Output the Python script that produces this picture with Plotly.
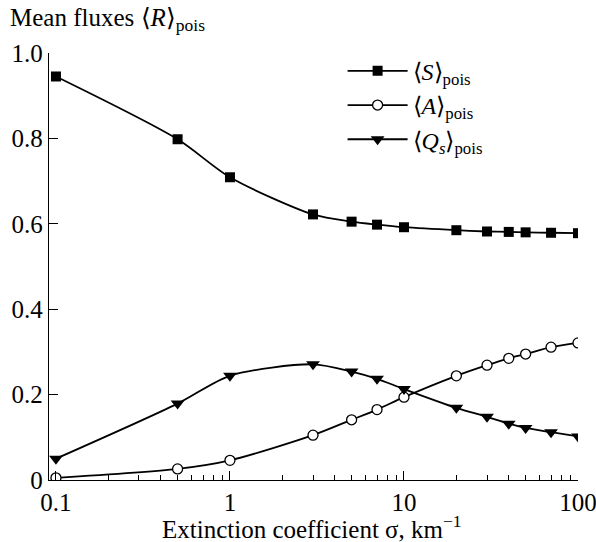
import plotly.graph_objects as go

sigma = [0.1, 0.5, 1, 3, 5, 7, 10, 20, 30, 40, 50, 70, 100]
S_pois = [0.945, 0.798, 0.709, 0.622, 0.605, 0.598, 0.592, 0.585, 0.582, 0.581, 0.580, 0.579, 0.578]
A_pois = [0.005, 0.026, 0.046, 0.105, 0.141, 0.165, 0.194, 0.244, 0.269, 0.285, 0.295, 0.311, 0.321]
Q_pois = [0.050, 0.179, 0.244, 0.271, 0.254, 0.237, 0.213, 0.169, 0.148, 0.132, 0.122, 0.112, 0.102]

names = ["⟨<i>S</i>⟩<sub>pois</sub>", "⟨<i>A</i>⟩<sub>pois</sub>", "⟨<i>Q<sub>s</sub></i>⟩<sub>pois</sub>"]
y_ticks = [0, 0.2, 0.4, 0.6, 0.8, 1.0]
y_ticklabels = ["0", "0.2", "0.4", "0.6", "0.8", "1.0"]
x_ticks = [0.1, 1, 10, 100]
x_ticklabels = ["0.1", "1", "10", "100"]
x_minor = [m * d for d in (0.1, 1, 10) for m in range(2, 10)]

FONT = "Liberation Serif, serif"
FS = 25
fig = go.Figure()
fig.add_trace(go.Scatter(x=sigma, y=S_pois, name=names[0], mode="lines+markers",
                         line=dict(color="black", width=1.8, shape="spline", smoothing=0.8),
                         marker=dict(symbol="square", size=10, color="black")))
fig.add_trace(go.Scatter(x=sigma, y=A_pois, name=names[1], mode="lines+markers",
                         line=dict(color="black", width=1.8, shape="spline", smoothing=0.8),
                         marker=dict(symbol="circle", size=10, color="white",
                                     line=dict(color="black", width=1.3))))
fig.add_trace(go.Scatter(x=sigma, y=Q_pois, name=names[2], mode="lines+markers",
                         line=dict(color="black", width=1.8, shape="spline", smoothing=0.8),
                         marker=dict(symbol="triangle-down", size=12, color="black")))

fig.update_layout(
    width=596, height=542,
    margin=dict(l=49, r=18, t=53, b=62),
    paper_bgcolor="white", plot_bgcolor="white",
    font=dict(family=FONT, size=FS, color="black"),
    showlegend=True,
    legend=dict(x=0.555, y=1.01, xanchor="left", yanchor="top",
                bgcolor="rgba(0,0,0,0)", font=dict(family=FONT, size=FS - 1),
                itemwidth=60, tracegroupgap=0),
    xaxis=dict(type="log", range=[-1.04, 2.0], showgrid=False, zeroline=False,
               showline=True, linecolor="black", linewidth=1.3, automargin=False,
               ticks="inside", ticklen=9, tickwidth=1.3, tickcolor="black",
               tickvals=x_ticks, ticktext=x_ticklabels, ticklabeloverflow="allow",
               minor=dict(ticks="inside", ticklen=5, tickwidth=1.1, tickcolor="black",
                          tickvals=x_minor)),
    yaxis=dict(range=[0, 1.0], showgrid=False, zeroline=False, automargin=False,
               showline=True, linecolor="black", linewidth=1.3,
               ticks="inside", ticklen=9, tickwidth=1.3, tickcolor="black",
               tickvals=y_ticks, ticktext=y_ticklabels),
    annotations=[
        dict(text="Mean fluxes ⟨<i>R</i>⟩<sub>pois</sub>", xref="paper", yref="paper",
             x=-0.077, y=1.0, xanchor="left", yanchor="bottom", yshift=16,
             showarrow=False, font=dict(family=FONT, size=FS)),
        dict(text="Extinction coefficient σ, km<sup>−1</sup>", xref="paper", yref="paper",
             x=0.497, y=-0.111, xanchor="center", yanchor="middle",
             showarrow=False, font=dict(family=FONT, size=FS)),
    ],
)
fig.write_html("out.html")
